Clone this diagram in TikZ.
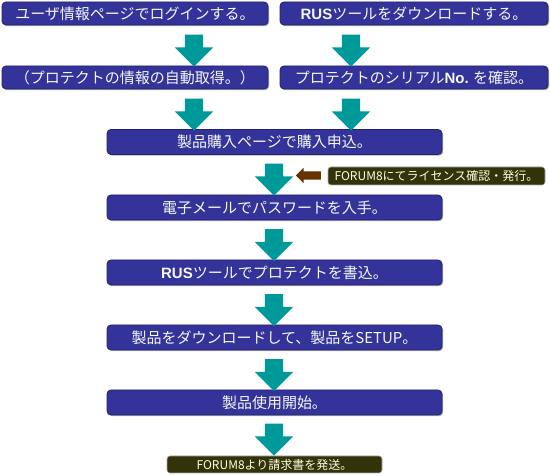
\documentclass[tikz,border=0pt]{standalone}
\usepackage{fontspec}
\newfontfamily\jp{Noto Sans CJK JP}
\newfontfamily\lat{Liberation Sans}
\usetikzlibrary{shapes.arrows,shadows}
\definecolor{boxblue}{RGB}{51,51,153}
\definecolor{boxedge}{RGB}{34,34,110}
\definecolor{teal2}{RGB}{0,153,153}
\definecolor{olivebox}{RGB}{51,51,10}
\definecolor{brownarr}{RGB}{102,51,0}
\tikzset{
  bluebox/.style={rectangle, rounded corners=4pt, fill=boxblue, draw=boxedge, line width=0.8pt,
    text=white!93!gray, font=\jp\fontsize{15}{15}\selectfont, inner sep=0pt,
    minimum height=23pt,
    drop shadow={shadow xshift=1.2pt, shadow yshift=-1.2pt, fill=black!70, opacity=0.45}},
  darkbox/.style={rectangle, rounded corners=3pt, fill=olivebox, draw=gray!70, line width=0.6pt,
    text=white!88!yellow, font=\jp\fontsize{12}{12}\selectfont, inner sep=0pt, minimum height=18pt},
  downarrow/.style={single arrow, fill=teal2, draw=none, rotate=-90, inner sep=9pt,
    minimum height=32pt, minimum width=38pt, single arrow head extend=10pt, anchor=center},
  leftarrow/.style={single arrow, fill=brownarr, draw=none, rotate=180, inner sep=4pt,
    minimum height=25pt, minimum width=15pt, single arrow head extend=3.5pt, anchor=center}
}
\begin{document}
\begin{tikzpicture}[x=1pt,y=-1pt]
\useasboundingbox (0,0) rectangle (550,476);
% top row
\node[bluebox, minimum width=266pt] (A) at (135,13.5) {ユーザ情報ページでログインする。};
\node[bluebox, minimum width=268pt] (B) at (414,13.5) {{\lat\bfseries RUS}ツールをダウンロードする。};
\node[bluebox, minimum width=266pt] (C) at (135,77.5) {（プロテクトの情報の自動取得。）};
\node[bluebox, minimum width=268pt] (D) at (414,77.5) {プロテクトのシリアル{\lat\bfseries No.} を確認。};
% central column
\node[bluebox, minimum width=335pt, minimum height=25pt] (E) at (274.5,142) {製品購入ページで購入申込。};
\node[bluebox, minimum width=335pt, minimum height=25pt] (F) at (274.5,207.5) {電子メールでパスワードを入手。};
\node[bluebox, minimum width=335pt, minimum height=25pt] (G) at (274.5,272.5) {{\lat\bfseries RUS}ツールでプロテクトを書込。};
\node[bluebox, minimum width=335pt, minimum height=25pt] (H) at (274.5,337.5) {製品をダウンロードして、製品をSETUP。};
\node[bluebox, minimum width=335pt, minimum height=25pt] (I) at (274.5,402.5) {製品使用開始。};
\node[darkbox, minimum width=215pt, minimum height=17pt] (J) at (274.5,464.5) {FORUM8より請求書を発送。};
\node[darkbox, minimum width=217pt] (K) at (436.5,176) {FORUM8にてライセンス確認・発行。};
% block arrows
\node[downarrow] (a1) at (194,46) {};
\node[downarrow] (b1) at (351,46) {};
\node[downarrow] (a2) at (194,110) {};
\node[downarrow] (b2) at (351,110) {};
\node[downarrow] (e1) at (274,175) {};
\node[downarrow] (f1) at (274,240.5) {};
\node[downarrow] (g1) at (274,305.5) {};
\node[downarrow] (h1) at (274,370.5) {};
\node[downarrow] (i1) at (274,435) {};
\node[leftarrow] (k1) at (310.5,175.5) {};
\end{tikzpicture}
\end{document}
